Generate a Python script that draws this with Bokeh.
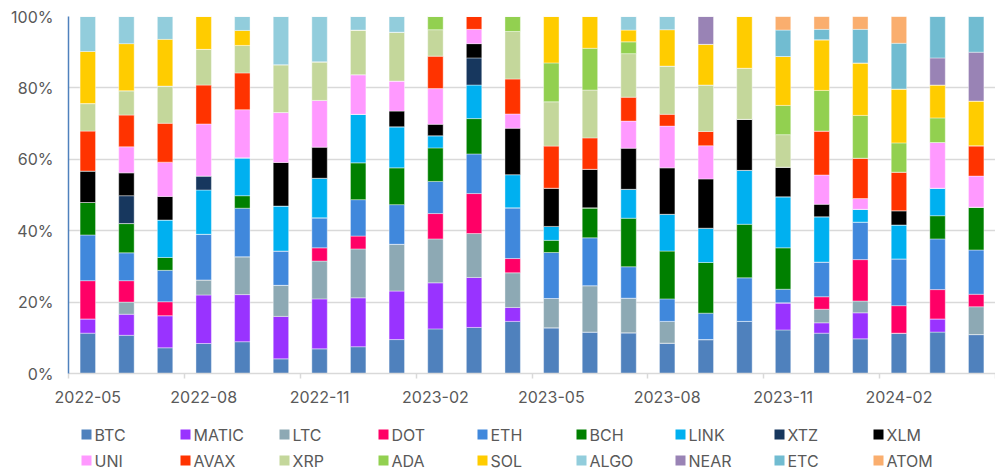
from bokeh.plotting import figure
from bokeh.layouts import column
from bokeh.models import (Range1d, FixedTicker, PrintfTickFormatter,
                          ColumnDataSource)
from bokeh.core.properties import value
from bokeh.embed import file_html
from bokeh.resources import INLINE

months = ["2022-05", "2022-06", "2022-07", "2022-08", "2022-09", "2022-10",
          "2022-11", "2022-12", "2023-01", "2023-02", "2023-03", "2023-04",
          "2023-05", "2023-06", "2023-07", "2023-08", "2023-09", "2023-10",
          "2023-11", "2023-12", "2024-01", "2024-02", "2024-03", "2024-04"]

coins = ["BTC", "MATIC", "LTC", "DOT", "ETH", "BCH", "LINK", "XTZ", "XLM",
         "UNI", "AVAX", "XRP", "ADA", "SOL", "ALGO", "NEAR", "ETC", "ATOM"]

colors = ["#4F81BD", "#9933FF", "#8DA9B4", "#FF0066", "#4088DC", "#008000",
          "#00B0F0", "#17375E", "#000000", "#FF99FF", "#FF3300", "#C4D79B",
          "#92D050", "#FFCC00", "#92CDDC", "#9983B5", "#71BCD1", "#FAAE6E"]

BTC = [11.3, 10.7, 7.2, 8.4, 8.9, 4.1, 6.9, 7.5, 9.5, 12.5, 12.9, 14.6, 12.8, 11.6, 11.4, 8.5, 9.5, 14.6, 12.2, 11.3, 9.7, 11.3, 11.6, 10.9]
MATIC = [4.0, 5.9, 9.0, 13.6, 13.2, 11.9, 14.0, 13.7, 13.6, 12.9, 14.0, 3.9, 0, 0, 0, 0, 0, 0, 7.6, 2.9, 7.3, 0, 3.7, 0]
LTC = [0, 3.4, 0, 4.2, 10.6, 8.7, 10.6, 13.7, 13.1, 12.3, 12.3, 9.7, 8.2, 13.0, 9.7, 6.1, 0, 0, 0, 3.8, 3.3, 0, 0, 7.8]
DOT = [10.7, 6.0, 3.9, 0, 0, 0, 3.7, 3.6, 0, 7.1, 11.2, 4.0, 0, 0, 0, 0, 0, 0, 0, 3.5, 11.6, 7.7, 8.2, 3.5]
ETH = [12.8, 7.8, 8.8, 12.8, 13.6, 9.6, 8.4, 10.2, 11.1, 9.0, 11.1, 14.2, 12.9, 13.4, 8.8, 6.3, 7.4, 12.2, 3.8, 9.7, 10.5, 13.1, 14.2, 12.4]
BCH = [9.1, 8.2, 3.6, 0, 3.5, 0, 0, 10.3, 10.3, 9.4, 9.9, 0, 3.4, 8.4, 13.6, 13.4, 14.2, 15.0, 11.6, 0, 0, 0, 6.5, 12.0]
LINK = [0, 0, 10.5, 12.4, 10.6, 12.6, 11.1, 13.6, 11.5, 3.4, 9.4, 9.3, 3.9, 0, 8.1, 10.3, 9.6, 15.1, 14.3, 12.7, 3.6, 9.5, 7.7, 0]
XTZ = [0, 7.8, 0, 3.9, 0, 0, 0, 0, 0, 0, 7.6, 0, 0, 0, 0, 0, 0, 0, 0, 0, 0, 0, 0, 0]
XLM = [8.8, 6.4, 6.6, 0, 0, 12.2, 8.7, 0, 4.4, 3.2, 4.0, 13.0, 10.7, 10.8, 11.5, 13.0, 13.8, 14.3, 8.3, 3.5, 0, 4.0, 0, 0]
UNI = [0, 7.3, 9.6, 14.6, 13.5, 14.0, 13.1, 11.1, 8.4, 10.0, 4.0, 4.0, 0, 0, 7.6, 11.7, 9.3, 0, 0, 8.2, 3.0, 0, 12.8, 8.7]
AVAX = [11.2, 8.9, 10.9, 10.9, 10.3, 0, 0, 0, 0, 9.1, 3.6, 9.8, 11.8, 8.8, 6.7, 3.3, 4.0, 0, 0, 12.3, 11.3, 10.8, 0, 8.5]
XRP = [7.7, 6.8, 10.4, 10.0, 7.7, 13.4, 10.8, 12.5, 13.7, 7.4, 0, 13.3, 12.4, 13.4, 12.2, 13.5, 13.0, 14.3, 9.1, 0, 0, 0, 0, 0]
ADA = [0, 0, 0, 0, 0, 0, 0, 0, 0, 3.7, 0, 4.2, 10.9, 11.7, 3.3, 0, 0, 0, 8.2, 11.4, 12.0, 8.2, 6.9, 0]
SOL = [14.6, 13.2, 13.1, 9.2, 4.2, 0, 0, 0, 0, 0, 0, 0, 13.0, 8.9, 3.3, 10.2, 11.4, 14.5, 13.7, 14.2, 14.7, 15.1, 9.2, 12.5]
ALGO = [9.8, 7.6, 6.4, 0, 3.9, 13.5, 12.7, 3.8, 4.4, 0, 0, 0, 0, 0, 3.8, 3.7, 0, 0, 0, 0, 0, 0, 0, 0]
NEAR = [0, 0, 0, 0, 0, 0, 0, 0, 0, 0, 0, 0, 0, 0, 0, 0, 7.8, 0, 0, 0, 0, 0, 7.6, 13.7]
ETC = [0, 0, 0, 0, 0, 0, 0, 0, 0, 0, 0, 0, 0, 0, 0, 0, 0, 0, 7.4, 2.9, 9.4, 12.8, 11.6, 10.0]
ATOM = [0, 0, 0, 0, 0, 0, 0, 0, 0, 0, 0, 0, 0, 0, 0, 0, 0, 0, 3.8, 3.6, 3.6, 7.5, 0, 0]

label_months = ["2022-05", "2022-08", "2022-11", "2023-02", "2023-05",
                "2023-08", "2023-11", "2024-02"]

series = dict(BTC=BTC, MATIC=MATIC, LTC=LTC, DOT=DOT, ETH=ETH, BCH=BCH,
              LINK=LINK, XTZ=XTZ, XLM=XLM, UNI=UNI, AVAX=AVAX, XRP=XRP,
              ADA=ADA, SOL=SOL, ALGO=ALGO, NEAR=NEAR, ETC=ETC, ATOM=ATOM)

n = len(months)
data = {"x": [i + 0.5 for i in range(n)], "month": months}
data.update(series)
source = ColumnDataSource(data)

FONT = "Inter"
GREY = "#595959"
W = 995
LEFT = 68

# ---------------- main chart ----------------
p = figure(width=W, height=413, output_backend="svg", toolbar_location=None,
           x_range=Range1d(0, n), y_range=Range1d(0, 100),
           min_border_left=LEFT, min_border_right=0, min_border_top=16,
           min_border_bottom=40)
p.outline_line_color = None

p.vbar_stack(coins, x="x", width=0.4, color=colors, source=source,
             line_color="white", line_width=0.8, line_alpha=0.5)

label_pos = [months.index(m) + 0.5 for m in label_months]
boundaries = [float(i) for i in range(0, n + 1, 3)]
p.xaxis.ticker = FixedTicker(ticks=label_pos, minor_ticks=boundaries)
p.xaxis.major_label_overrides = {pos: m for pos, m in zip(label_pos, label_months)}
p.xaxis.major_tick_out = 0
p.xaxis.major_tick_in = 0
p.xaxis.minor_tick_out = 5
p.xaxis.minor_tick_in = 0
p.xaxis.minor_tick_line_color = "#d9d9d9"
p.xaxis.minor_tick_line_width = 1.5
p.xaxis.axis_line_color = "#d9d9d9"
p.xaxis.axis_line_width = 1.5
p.xaxis.major_label_text_font = FONT
p.xaxis.major_label_text_font_size = "16px"
p.xaxis.major_label_text_color = GREY
p.xaxis.major_label_standoff = 12

p.yaxis.ticker = FixedTicker(ticks=[0, 20, 40, 60, 80, 100])
p.yaxis.formatter = PrintfTickFormatter(format="%d%%")
p.yaxis.major_tick_out = 0
p.yaxis.major_tick_in = 0
p.yaxis.minor_tick_out = 0
p.yaxis.minor_tick_in = 0
p.yaxis.axis_line_color = "#4F81BD"
p.yaxis.axis_line_width = 1.5
p.yaxis.major_label_text_font = FONT
p.yaxis.major_label_text_font_size = "16px"
p.yaxis.major_label_text_color = GREY
p.yaxis.major_label_standoff = 15

p.xgrid.grid_line_color = None
p.ygrid.grid_line_color = "#d9d9d9"
p.ygrid.grid_line_width = 1.5

# ---------------- legend strip (2 rows x 9 columns) ----------------
LEG_H = 58
per_row = 9
col_pitch, row_pitch = 99, 26
first_x, first_y = 86, 21
sw_x = [first_x + (i % per_row) * col_pitch for i in range(len(coins))]
sw_y = [first_y + (i // per_row) * row_pitch for i in range(len(coins))]
leg_src = ColumnDataSource(dict(x=sw_x, y=sw_y, tx=[v + 8 for v in sw_x],
                                label=coins, color=colors))

# the legend frame shares the chart's frame edges (LEFT .. W), so its
# x range runs in page pixels over that span
leg = figure(width=W, height=LEG_H, output_backend="svg",
             toolbar_location=None, x_range=Range1d(LEFT, W),
             y_range=Range1d(LEG_H, 0), x_axis_type=None, y_axis_type=None,
             min_border_left=LEFT, min_border_right=0, min_border_top=0,
             min_border_bottom=0)
leg.outline_line_color = None
leg.grid.visible = False
leg.rect(x="x", y="y", width=10, height=10, fill_color="color",
         line_color=None, source=leg_src)
leg.text(x="tx", y="y", text="label", text_font=value(FONT),
         text_font_size="16px", text_color=GREY, text_baseline="middle",
         text_align="left", source=leg_src)

layout = column(p, leg, spacing=0)

open("out.html", "w").write(file_html(layout, INLINE))
